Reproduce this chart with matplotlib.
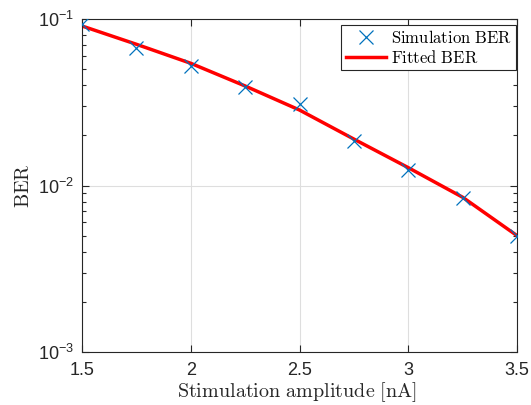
import matplotlib
matplotlib.use("Agg")
import matplotlib.pyplot as plt
from matplotlib.ticker import LogLocator, NullFormatter, FixedLocator

# Data
amplitude = [1.5, 1.75, 2.0, 2.25, 2.5, 2.75, 3.0, 3.25, 3.5]
sim_ber = [0.0933, 0.0673, 0.0522, 0.0390, 0.0309, 0.0186, 0.0124, 0.00840, 0.00498]
fit_ber = [0.0908, 0.0705, 0.0542, 0.0396, 0.0284, 0.0190, 0.0128, 0.0085, 0.0050]
xticks = [1.5, 2.0, 2.5, 3.0, 3.5]
xticklabels = ["1.5", "2", "2.5", "3", "3.5"]
yticks = [1e-3, 1e-2, 1e-1]
yticklabels = [r"$10^{-3}$", r"$10^{-2}$", r"$10^{-1}$"]

plt.rcParams["font.family"] = ["Liberation Sans", "DejaVu Sans"]
plt.rcParams["mathtext.fontset"] = "custom"
plt.rcParams["mathtext.rm"] = "Liberation Sans"
plt.rcParams["mathtext.it"] = "Liberation Sans:italic"
plt.rcParams["mathtext.bf"] = "Liberation Sans:bold"

fig = plt.figure(figsize=(5.31, 4.05), dpi=100)
ax = fig.add_axes([82/531, 1-352/405, 435/531, 333/405])

axc = (0.15, 0.15, 0.15)
blue = (0.0, 0.447, 0.741)

ax.plot(amplitude, sim_ber, linestyle="none", marker="x", markersize=10,
        markeredgewidth=0.9, color=blue, label=r"$\mathrm{Simulation\ BER}$", zorder=3)
ax.plot(amplitude, fit_ber, color="red", linewidth=2.5, label=r"$\mathrm{Fitted\ BER}$", zorder=2)

ax.set_yscale("log")
ax.set_xlim(1.5, 3.5)
ax.set_ylim(1e-3, 1e-1)
ax.xaxis.set_major_locator(FixedLocator(xticks))
ax.set_xticklabels(xticklabels)
ax.yaxis.set_major_locator(FixedLocator(yticks))
ax.set_yticklabels(yticklabels)
ax.yaxis.set_minor_locator(LogLocator(base=10, subs=range(2, 10)))
ax.yaxis.set_minor_formatter(NullFormatter())

ax.grid(True, which="major", color=(0.87, 0.87, 0.87), linewidth=0.8)
ax.set_axisbelow(True)

for s in ax.spines.values():
    s.set_color(axc)
    s.set_linewidth(0.8)
ax.tick_params(which="both", direction="in", top=True, right=True, colors=axc,
               labelcolor=axc, width=0.8)
ax.tick_params(which="major", length=5, labelsize=13)
ax.tick_params(axis="x", which="major", pad=7)
ax.tick_params(axis="y", which="major", pad=6)
ax.tick_params(which="minor", length=3)

ax.set_xlabel(r"$\mathrm{Stimulation\ amplitude\ [nA]}$", fontsize=14.5,
              math_fontfamily="cm", color=axc)
ax.set_ylabel(r"$\mathrm{BER}$", fontsize=14.5, math_fontfamily="cm", color=axc)
ax.xaxis.set_label_coords(0.495, -0.085)
ax.yaxis.set_label_coords(-0.113, 0.5)

leg = ax.legend(loc="upper right", bbox_to_anchor=(0.997, 0.982), borderaxespad=0,
                fancybox=False, framealpha=1, edgecolor=axc,
                handlelength=2.4, handletextpad=0.3,
                borderpad=0.25, labelspacing=0.15,
                prop={"size": 12})
for t in leg.get_texts():
    t.set_math_fontfamily("cm")
leg.get_frame().set_linewidth(0.8)

fig.savefig("out.png", dpi=100)
